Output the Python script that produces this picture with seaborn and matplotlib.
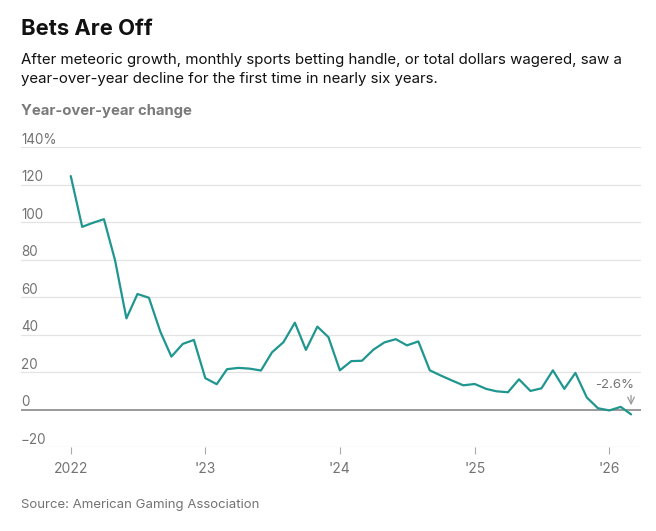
import numpy as np
import pandas as pd
import seaborn as sns
import matplotlib.pyplot as plt

# monthly handle, year-over-year change (%), Jan 2022 - Mar 2026
months = pd.date_range("2022-01-01", "2026-03-01", freq="MS")
yoy_change = [
    124.5, 97.4, 99.5, 101.5, 79.7, 48.6, 61.6, 59.6, 41.5, 28.2, 35.0, 37.1,   # 2022
    16.7, 13.5, 21.5, 22.2, 21.8, 20.8, 30.5, 35.9, 46.3, 31.8, 44.2, 38.6,     # 2023
    20.9, 25.8, 26.0, 31.9, 35.8, 37.5, 34.2, 36.3, 20.9, 18.1, 15.4, 12.9,     # 2024
    13.6, 11.0, 9.7, 9.2, 16.1, 9.9, 11.3, 20.9, 11.0, 19.5, 6.4, 0.7,          # 2025
    -0.5, 1.4, -2.6,                                                            # 2026
]
y_ticks = [-20, 0, 20, 40, 60, 80, 100, 120, 140]
y_tick_labels = ["\u221220", "0", "20", "40", "60", "80", "100", "120", "140%"]
x_ticks = pd.to_datetime(["2022-01-01", "2023-01-01", "2024-01-01", "2025-01-01", "2026-01-01"])
x_tick_labels = ["2022", "'23", "'24", "'25", "'26"]

df = pd.DataFrame({"month": months, "change": yoy_change})

sns.set_theme(style="white")
plt.rcParams["font.family"] = ["Inter", "DejaVu Sans"]

fig = plt.figure(figsize=(6.56, 5.31), dpi=100)
ax = fig.add_axes([21 / 656, 84 / 531, 620 / 656, 300 / 531])

teal = "#1f968f"
grey = "#737373"

# gridlines drawn by hand so labels can sit on top of them
for t in y_ticks:
    if t == 0:
        ax.axhline(t, color="#9a9a9a", lw=1.4, zorder=2)
    else:
        ax.axhline(t, color="#e3e3e3", lw=0.9, zorder=1)

sns.lineplot(data=df, x="month", y="change", color=teal, lw=1.6, ax=ax, zorder=3)

ax.set_ylim(-20, 140)
ax.set_xlim(pd.Timestamp("2021-08-19"), pd.Timestamp("2026-03-28"))
ax.set_yticks([])
ax.set_xticks(x_ticks)
ax.set_xticklabels(x_tick_labels, color=grey, fontsize=10)
ax.tick_params(axis="x", length=5, width=0.8, color="#aaaaaa", pad=6, bottom=True)
for s in ax.spines.values():
    s.set_visible(False)
ax.set_xlabel("")
ax.set_ylabel("")

for t, lab in zip(y_ticks, y_tick_labels):
    ax.annotate(lab, xy=(0, t), xycoords=("axes fraction", "data"),
                xytext=(0, 2.5), textcoords="offset points",
                ha="left", va="baseline", color=grey, fontsize=9.7)

# last value callout
last_x = df["month"].iloc[-1]
last_y = df["change"].iloc[-1]
ax.annotate("", xy=(last_x, 0.8), xytext=(last_x, 9),
            arrowprops=dict(arrowstyle="->", color="#999999", lw=0.9))
ax.annotate("-2.6%", xy=(last_x, 11.5), xytext=(2, 0), textcoords="offset points",
            ha="right", va="baseline", color=grey, fontsize=9.5)

fig.text(21 / 656, 1 - 35 / 531, "Bets Are Off", fontsize=15.8, fontweight="bold",
         color="#111111", ha="left", va="baseline")
fig.text(21 / 656, 1 - 64 / 531,
         "After meteoric growth, monthly sports betting handle, or total dollars wagered, saw a",
         fontsize=10.8, color="#111111", ha="left", va="baseline")
fig.text(21 / 656, 1 - 83.5 / 531,
         "year-over-year decline for the first time in nearly six years.",
         fontsize=10.8, color="#111111", ha="left", va="baseline")
fig.text(21 / 656, 1 - 115 / 531, "Year-over-year change", fontsize=10.7,
         fontweight="bold", color="#7a7a7a", ha="left", va="baseline")
fig.text(21 / 656, 1 - 508 / 531, "Source: American Gaming Association",
         fontsize=9.5, color=grey, ha="left", va="baseline")

fig.savefig("out.png", dpi=100, facecolor="white")
